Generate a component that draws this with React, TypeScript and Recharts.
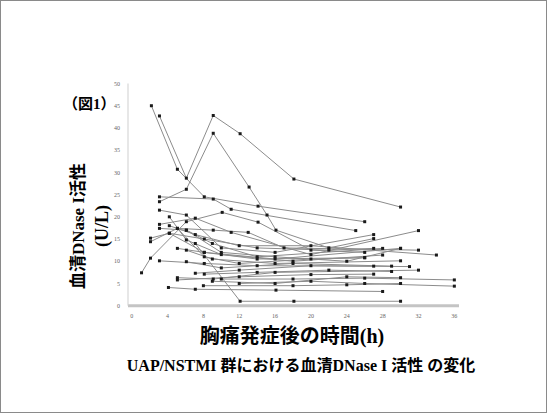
import { LineChart, Line, XAxis, YAxis } from 'recharts';

// hours after chest pain onset / serum DNase I activity (U/L), one array per patient
const p01 = [[2.2, 45], [5.1, 30.7], [8.1, 24.5], [14.1, 22.4], [26, 18.9]];
const p02 = [[3.1, 42.7], [6.1, 28.7], [9.1, 42.8], [12.1, 38.7], [18.1, 28.5], [30, 22.2]];
const p03 = [[3.1, 23.4], [6.1, 26.2], [9.1, 38.8], [13.1, 26.7], [15.1, 20.4], [16.1, 17], [22, 13], [27, 15.1]];
const p04 = [[3.1, 24.5], [9.1, 24], [11.1, 21.7], [25, 16.9]];
const p05 = [[3.1, 21.5], [6.1, 20.4], [10, 13], [16, 12], [27, 16]];
const p06 = [[3.1, 18.3], [7.1, 19.7], [11.1, 16.5], [20, 11.5], [32, 16.9]];
const p07 = [[3.1, 17.4], [6.1, 17], [9, 14], [14, 11], [28, 12.9]];
const p08 = [[2.1, 15.2], [4.2, 16.3], [8.1, 12], [16, 10.5], [30, 12.9]];
const p09 = [[2.1, 14.4], [5.1, 17.4], [9.1, 17], [13, 16.5], [17, 13], [32, 12.5]];
const p10 = [[1.1, 7.4], [2.1, 10.7], [6.1, 18.9], [10.1, 21], [14.1, 18.8], [20, 12.5], [26, 12]];
const p11 = [[4.2, 20], [6.1, 14.8], [10, 11.5], [18, 10], [28, 11.4]];
const p12 = [[4.2, 18], [7.1, 16], [12, 13.5], [20, 13.5], [34, 11.4]];
const p13 = [[5.1, 12.9], [8.1, 12], [14, 10.5], [26, 10.8]];
const p14 = [[6.1, 12.5], [9, 10.5], [16, 9.5], [30, 10.1]];
const p15 = [[3.1, 10.1], [8.1, 9.5], [14, 9], [27, 8.9]];
const p16 = [[6.1, 9.9], [10, 8.5], [18, 9.5], [29, 8.9]];
const p17 = [[7.1, 7.3], [12, 8], [20, 9], [31, 8.8]];
const p18 = [[5.1, 6.3], [9.1, 6], [16, 7.5], [32, 8]];
const p19 = [[5.1, 5.8], [12, 6.5], [20, 7], [27, 7.1]];
const p20 = [[8.1, 7.1], [14, 7.5], [22, 8], [29, 7.7]];
const p21 = [[4.1, 4.1], [7.1, 3.7], [16.1, 3.5], [28, 3.2]];
const p22 = [[7.1, 14], [12.1, 1], [18.1, 1], [30, 1]];
const p23 = [[9, 5.5], [16, 5], [24, 6.5], [30, 6.3]];
const p24 = [[10, 6], [18, 6], [26, 6.2], [36, 5.8]];
const p25 = [[12, 5], [20, 5.5], [26, 5], [36, 4.4]];
const p26 = [[8, 4.5], [18, 4.5], [24, 4.7], [30, 5]];
const p27 = [[4.2, 16.3], [8.1, 15], [14, 13], [22, 12.5], [27, 12.9]];
const p28 = [[6.1, 17], [10, 12], [16, 11], [24, 10], [30, 12.9]];
const p29 = [[5.1, 17.4], [8.1, 11], [12, 9.5], [20, 10.5], [26, 10.8]];

const patients = [p01, p02, p03, p04, p05, p06, p07, p08, p09, p10, p11, p12, p13, p14, p15,
  p16, p17, p18, p19, p20, p21, p22, p23, p24, p25, p26, p27, p28, p29];

const xTicks = [0, 4, 8, 12, 16, 20, 24, 28, 32, 36];
const yTicks = [0, 5, 10, 15, 20, 25, 30, 35, 40, 45, 50];

const jp = '"Liberation Serif", "Noto Sans CJK JP", serif';

const SquareDot = (props: any) => {
  const { cx, cy, index } = props;
  if (cx == null || cy == null) return null;
  return <rect key={index} x={cx - 1.5} y={cy - 1.5} width={3} height={3} fill="#1a1a1a" />;
};

export default function App() {
  return (
    <div
      style={{
        position: 'absolute',
        left: 0,
        top: 0,
        width: 547,
        height: 413,
        background: '#fff',
        border: '1px solid #8a8a8a',
        boxSizing: 'border-box',
        fontFamily: jp,
        overflow: 'hidden',
      }}
    >
      <LineChart
        width={547}
        height={413}
        style={{ position: 'absolute', left: -1, top: -1 }}
        margin={{ top: 83.5, right: 88, bottom: 77.3, left: 98 }}
      >
        <XAxis
          dataKey="h"
          type="number"
          domain={[-0.41, 36.52]}
          ticks={xTicks}
          allowDataOverflow
          height={30}
          tickLine={false}
          axisLine={{ stroke: '#c4c4c4', strokeWidth: 3 }}
          tick={{ fontSize: 6, fill: '#666', fontFamily: 'Liberation Serif' }}
        />
        <YAxis
          dataKey="v"
          type="number"
          domain={[0, 50]}
          ticks={yTicks}
          width={30}
          tickLine={false}
          axisLine={{ stroke: '#cfcfcf', strokeWidth: 1 }}
          tick={{ fontSize: 6, fill: '#666', fontFamily: 'Liberation Serif' }}
        />
        {patients.map((pts, i) => (
          <Line
            key={i}
            data={pts.map(([h, v]) => ({ h, v }))}
            dataKey="v"
            type="linear"
            stroke="#8c8c8c"
            strokeWidth={1}
            dot={SquareDot}
            activeDot={false}
            isAnimationActive={false}
          />
        ))}
      </LineChart>

      <div style={{ position: 'absolute', left: 62, top: 91, fontSize: 15, fontWeight: 'bold', whiteSpace: 'nowrap' }}>
        （図1）
      </div>
      <div
        style={{
          position: 'absolute',
          left: 75,
          top: 225,
          transform: 'translate(-50%, -50%) rotate(-90deg)',
          fontSize: 17,
          fontWeight: 'bold',
          whiteSpace: 'nowrap',
        }}
      >
        血清DNase I活性
      </div>
      <div
        style={{
          position: 'absolute',
          left: 101,
          top: 225,
          transform: 'translate(-50%, -50%) rotate(-90deg)',
          fontSize: 18,
          fontWeight: 'bold',
          whiteSpace: 'nowrap',
        }}
      >
        (U/L)
      </div>
      <div
        style={{
          position: 'absolute',
          left: 291,
          top: 333,
          transform: 'translate(-50%, -50%)',
          fontSize: 20,
          fontWeight: 'bold',
          whiteSpace: 'nowrap',
        }}
      >
        胸痛発症後の時間(h)
      </div>
      <div
        style={{
          position: 'absolute',
          left: 300,
          top: 363,
          transform: 'translate(-50%, -50%)',
          fontSize: 16,
          fontWeight: 'bold',
          whiteSpace: 'nowrap',
        }}
      >
        UAP/NSTMI 群における血清DNase I 活性 の変化
      </div>
    </div>
  );
}
